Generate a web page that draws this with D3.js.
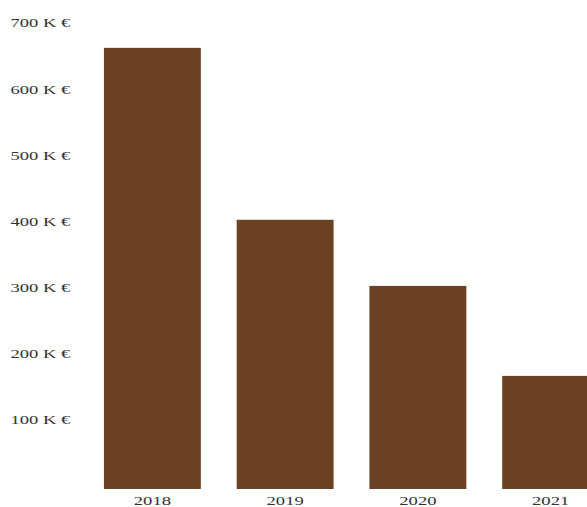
<!DOCTYPE html>
<html>
<head>
<meta charset="utf-8">
<script src="https://cdn.jsdelivr.net/npm/d3@7"></script>
<style>
  html, body { margin: 0; padding: 0; background: #fff; }
  svg { display: block; }
  text { font-family: "Liberation Serif", "Times New Roman", serif; fill: #333; }
</style>
</head>
<body>
<div id="chart"></div>
<script>
const years = ["2018", "2019", "2020", "2021"];
const values = [667, 407, 307, 171]; // K €
const yTicks = [100, 200, 300, 400, 500, 600, 700];

const W = 587, H = 507;
const svg = d3.select("#chart").append("svg").attr("width", W).attr("height", H);

const x = d3.scaleBand().domain(years).range([86, 617]).paddingInner(0.27).paddingOuter(0.135);
const y = d3.scaleLinear().domain([0, 700]).range([489, 26]);

svg.append("g").selectAll("rect")
  .data(years)
  .join("rect")
  .attr("x", d => x(d))
  .attr("width", x.bandwidth())
  .attr("y", (d, i) => y(values[i]))
  .attr("height", (d, i) => y(0) - y(values[i]))
  .attr("fill", "#6a4122");

const sx = 1.55;
// y labels
svg.append("g").selectAll("text")
  .data(yTicks)
  .join("text")
  .attr("transform", d => `translate(10.5, ${y(d) - 2.8}) scale(${sx},1)`)
  .attr("dy", "0.35em")
  .attr("font-size", "12px")
  .text(d => d + " K €");

// x labels
svg.append("g").selectAll("text")
  .data(years)
  .join("text")
  .attr("transform", d => `translate(${x(d) + x.bandwidth() / 2}, 505) scale(${sx},1)`)
  .attr("text-anchor", "middle")
  .attr("font-size", "12px")
  .text(d => d);
</script>
</body>
</html>
